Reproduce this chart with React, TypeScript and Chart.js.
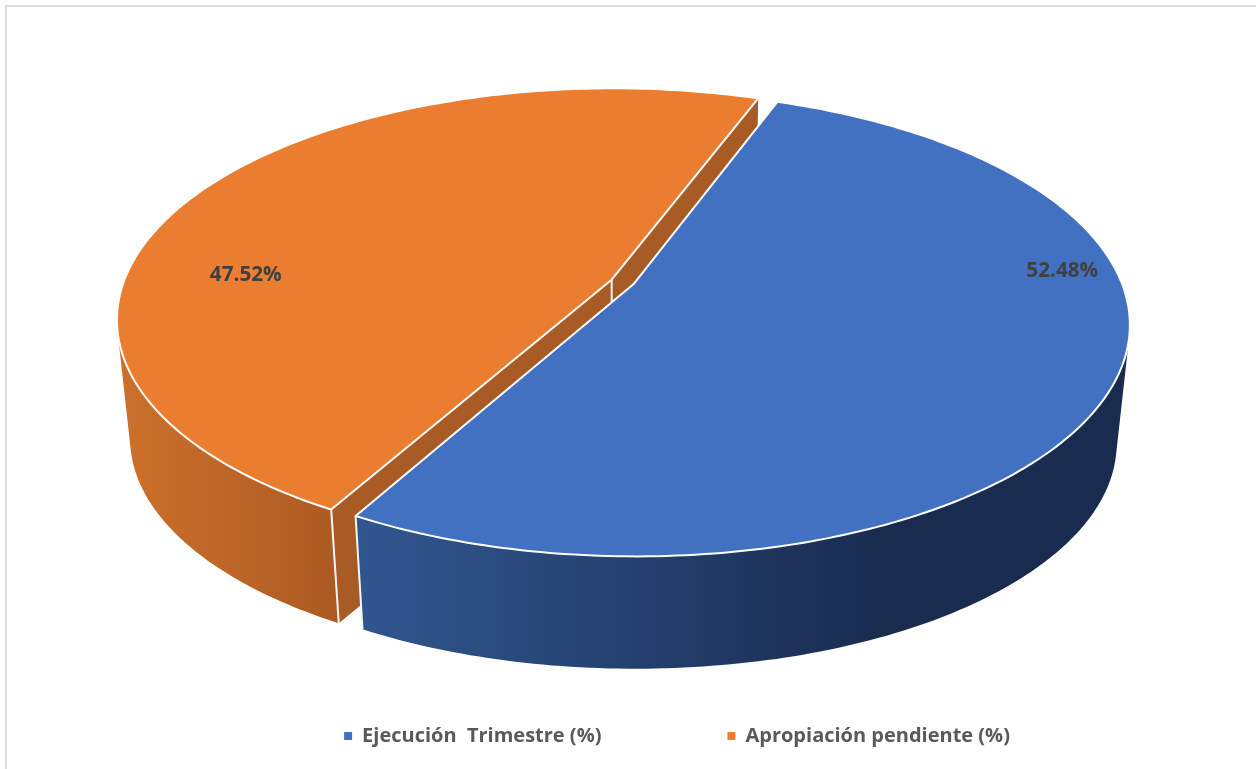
import React, { useEffect, useRef } from "react";
import { Chart, registerables, ArcElement, PieController } from "chart.js";

Chart.register(...registerables);

const categories = ["Ejecución  Trimestre (%)", "Apropiación pendiente (%)"];
const shareValues = [52.48, 47.52];
const sliceColors = ["#4371C2", "#EB7D31"];
const sideStops = [
  [["0", "#30568F"], ["1", "#192C50"]],
  [["0", "#CC712C"], ["1", "#AC5A22"]],
];
const cutColor = "#A85B25";
const sideRanges = [[360, 880], [120, 340]];
const labelAngles = [-4, 182];
const labelRadii = [0.889, 0.755];

const CENTER_X = 622.5;
const CENTER_Y = 282;
const RADIUS_X = 488;
const RADIUS_Y = 224.8;
const PERSPECTIVE = 0.1706;
const EXPLODE = 0.0245;
const DEPTH = 119.5;
const DEPTH_SCALE = 0.974;
const LEGEND_ROW_Y = 737;

type Pt = [number, number];

function topPoint(u: number, v: number): Pt {
  const w = 1 - PERSPECTIVE * v;
  return [CENTER_X + (RADIUS_X * u) / w, CENTER_Y + (RADIUS_Y * v) / w];
}
function lowPoint(p: Pt): Pt {
  return [
    CENTER_X + (p[0] - CENTER_X) * DEPTH_SCALE,
    CENTER_Y + (p[1] - CENTER_Y) * DEPTH_SCALE + DEPTH,
  ];
}

class Pie3DArc extends ArcElement {
  static id = "pie3dArc";
  static defaults = ArcElement.defaults;
  static defaultRoutes = ArcElement.defaultRoutes;

  sliceGeometry() {
    const { startAngle, endAngle } = this as any;
    const mid = (startAngle + endAngle) / 2;
    const ox = EXPLODE * Math.cos(mid);
    const oy = EXPLODE * Math.sin(mid);
    const rim: Pt[] = [];
    const steps = 200;
    for (let i = 0; i <= steps; i++) {
      const t = startAngle + ((endAngle - startAngle) * i) / steps;
      rim.push(topPoint(ox + Math.cos(t), oy + Math.sin(t)));
    }
    return { apex: topPoint(ox, oy), rim };
  }

  draw(ctx: CanvasRenderingContext2D) {
    const index = (this as any).$context?.dataIndex ?? 0;
    const { apex, rim } = this.sliceGeometry();
    const lowApex = lowPoint(apex);
    const lowRim = rim.map(lowPoint);
    const first = rim[0];
    const last = rim[rim.length - 1];
    const poly = (pts: Pt[]) => {
      ctx.beginPath();
      pts.forEach((p, i) => (i ? ctx.lineTo(p[0], p[1]) : ctx.moveTo(p[0], p[1])));
    };
    ctx.save();
    ctx.lineJoin = "round";

    // outer wall: one consistently wound quad per rim segment
    const [x0, x1] = sideRanges[index];
    const g = ctx.createLinearGradient(x0, 0, x1, 0);
    sideStops[index].forEach(([s, c]) => g.addColorStop(Number(s), c));
    ctx.beginPath();
    for (let i = 0; i < rim.length - 1; i++) {
      let quad: Pt[] = [rim[i], rim[i + 1], lowRim[i + 1], lowRim[i]];
      let area = 0;
      quad.forEach((p, k) => {
        const q = quad[(k + 1) % 4];
        area += p[0] * q[1] - q[0] * p[1];
      });
      if (area < 0) quad = quad.slice().reverse();
      quad.forEach((p, k) => (k ? ctx.lineTo(p[0], p[1]) : ctx.moveTo(p[0], p[1])));
      ctx.closePath();
    }
    ctx.fillStyle = g;
    ctx.fill("nonzero");

    ctx.strokeStyle = "#F4F4F4";
    ctx.lineWidth = 2;
    if (index === 0) {
      // only the near edge of the first slice can be seen
      poly([last, lowPoint(last)]);
      ctx.stroke();
    } else {
      // the cut faces of the far slice show through the gap
      ctx.fillStyle = cutColor;
      poly([apex, first, lowPoint(first), lowApex]);
      ctx.closePath();
      ctx.fill();
      poly([apex, last, lowPoint(last), lowApex]);
      ctx.closePath();
      ctx.fill();
      poly([first, lowPoint(first)]);
      ctx.stroke();
      poly([apex, lowApex]);
      ctx.stroke();
    }

    // top face
    poly([apex, ...rim]);
    ctx.closePath();
    ctx.fillStyle = (this as any).options.backgroundColor;
    ctx.fill();
    ctx.strokeStyle = "#FFFFFF";
    ctx.lineWidth = 2;
    ctx.stroke();
    ctx.restore();
  }
}

class Pie3DController extends PieController {
  static id = "pie3d";
  static defaults = { ...PieController.defaults, dataElementType: "pie3dArc" };
  static overrides = PieController.overrides;
  draw() {
    const ctx = (this as any).chart.ctx;
    const arcs = this.getMeta().data as any[];
    for (let i = arcs.length - 1; i >= 0; i--) arcs[i].draw(ctx);
  }
}

Chart.register(Pie3DArc as any, Pie3DController as any);

const sliceLabels = {
  id: "sliceLabels",
  afterDatasetsDraw(chart: any) {
    const { ctx } = chart;
    const arcs = chart.getDatasetMeta(0).data;
    ctx.save();
    ctx.font = 'bold 20.7px "Open Sans"';
    ctx.fillStyle = "#404040";
    ctx.textAlign = "center";
    ctx.textBaseline = "middle";
    arcs.forEach((arc: any, i: number) => {
      const mid = (arc.startAngle + arc.endAngle) / 2;
      const a = (labelAngles[i] * Math.PI) / 180;
      const p = topPoint(
        EXPLODE * Math.cos(mid) + labelRadii[i] * Math.cos(a),
        EXPLODE * Math.sin(mid) + labelRadii[i] * Math.sin(a)
      );
      ctx.fillText(shareValues[i].toFixed(2) + "%", p[0], p[1] + 1);
    });
    ctx.restore();
  },
};

const frame = {
  id: "frame",
  afterLayout(chart: any) {
    const legend = chart.legend;
    const h = legend.bottom - legend.top;
    legend.top = LEGEND_ROW_Y - legend.options.labels.padding - 11;
    legend.bottom = legend.top + h;
  },
  beforeDraw(chart: any) {
    const { ctx } = chart;
    ctx.save();
    ctx.fillStyle = "#FFFFFF";
    ctx.fillRect(0, 0, chart.width, chart.height);
    ctx.fillStyle = "#DDDDDD";
    ctx.fillRect(5, 5, chart.width - 5, 2);
    ctx.fillRect(5, 5, 2, chart.height - 5);
    ctx.restore();
  },
};

export default function App() {
  const ref = useRef<HTMLCanvasElement>(null);
  useEffect(() => {
    const chart = new Chart(ref.current!, {
      type: "pie3d" as any,
      data: {
        labels: categories,
        datasets: [{ data: shareValues, backgroundColor: sliceColors, borderWidth: 0 }],
      },
      options: {
        animation: false,
        responsive: false,
        rotation: 20.2,
        layout: { padding: { left: 98 } },
        plugins: {
          tooltip: { enabled: false },
          title: { display: false },
          legend: {
            display: true,
            position: "bottom",
            labels: {
              usePointStyle: true,
              pointStyle: "rect",
              boxHeight: 8,
              boxWidth: 8,
              pointStyleWidth: 8,
              padding: 126,
              color: "#595959",
              font: { family: '"Open Sans"', size: 20, weight: "bold" },
            },
          },
        },
      } as any,
      plugins: [frame, sliceLabels],
    } as any);
    return () => chart.destroy();
  }, []);
  return (
    <canvas
      ref={ref}
      width={1256}
      height={769}
      style={{ position: "fixed", left: 0, top: 0, display: "block" }}
    />
  );
}
